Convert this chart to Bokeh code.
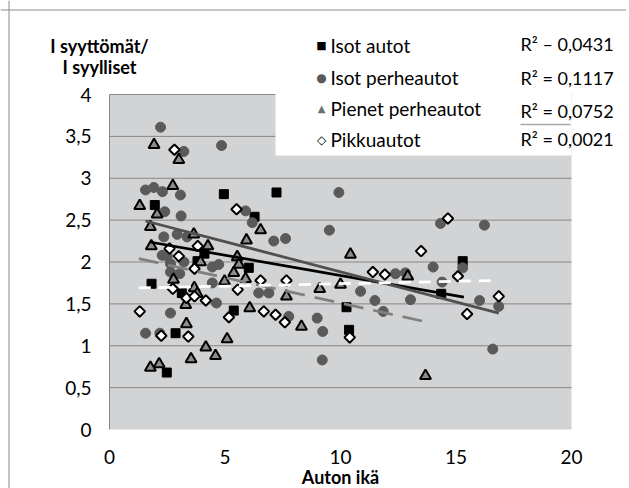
import numpy as np
from bokeh.plotting import figure
from bokeh.models import Label, FixedTicker, Range1d, Span
from bokeh.embed import file_html
from bokeh.resources import INLINE

# ---------------- data ----------------
series_names = ["Isot autot", "Isot perheautot", "Pienet perheautot", "Pikkuautot"]
r2_labels = ["R² – 0,0431", "R² = 0,1117", "R² = 0,0752", "R² = 0,0021"]
x_ticks = [0, 5, 10, 15, 20]
x_tick_labels = ["0", "5", "10", "15", "20"]
y_ticks = [0.0, 0.5, 1.0, 1.5, 2.0, 2.5, 3.0, 3.5, 4.0]
y_tick_labels = ["0", "0,5", "1", "1,5", "2", "2,5", "3", "3,5", "4"]
x_title = "Auton ikä"
y_title = ["I syyttömät/", "I syylliset"]

isot_autot_x = [4.95, 7.23, 1.96, 6.28, 4.11, 3.81, 6.03, 1.82, 3.13, 5.38, 10.26, 10.37, 2.86, 2.48, 14.36, 15.29]
isot_autot_y = [2.81, 2.83, 2.68, 2.54, 2.10, 2.01, 1.93, 1.74, 1.63, 1.42, 1.46, 1.19, 1.15, 0.68, 1.62, 2.01]

isot_perhe_x = [2.21, 3.22, 4.85, 1.56, 1.92, 2.29, 3.07, 2.39, 3.10, 2.35, 2.93, 3.36, 2.28, 2.50, 2.64, 3.22,
                4.45, 4.73, 2.64, 3.04, 4.45, 4.63, 2.64, 1.56, 2.18, 5.89, 6.18, 7.11, 7.62, 9.93, 9.52, 6.46,
                6.90, 7.76, 8.99, 9.23, 9.21, 10.87, 11.49, 11.85, 12.38, 12.81, 13.03, 14.01, 14.40, 14.33,
                16.23, 15.29, 16.02, 16.85, 16.59]
isot_perhe_y = [3.61, 3.32, 3.39, 2.86, 2.89, 2.84, 2.80, 2.60, 2.55, 2.30, 2.33, 2.30, 2.08, 2.07, 1.98, 2.00,
                1.94, 1.97, 1.88, 1.86, 1.75, 1.51, 1.39, 1.15, 1.15, 2.61, 2.47, 2.25, 2.28, 2.83, 2.38, 1.63,
                1.63, 1.35, 1.33, 1.17, 0.83, 1.65, 1.54, 1.41, 1.86, 1.87, 1.55, 1.94, 1.76, 2.46,
                2.44, 1.93, 1.54, 1.47, 0.96]

pienet_x = [1.93, 3.00, 2.74, 1.31, 2.06, 1.77, 3.65, 1.81, 4.26, 3.94, 2.77, 3.67, 3.80, 3.30, 3.33, 4.17,
            3.53, 4.59, 1.77, 2.15, 4.98, 5.09, 6.54, 5.93, 5.53, 5.60, 5.38, 5.89, 6.07, 7.66, 8.31, 9.10,
            10.00, 10.43, 12.91, 13.68]
pienet_y = [3.40, 3.22, 2.91, 2.67, 2.57, 2.42, 2.33, 2.19, 2.19, 2.00, 1.79, 1.69, 1.62, 1.49, 1.26, 0.98,
            0.84, 0.88, 0.74, 0.78, 1.77, 1.08, 2.38, 2.26, 2.06, 1.97, 1.87, 1.80, 1.45, 1.59, 1.23, 1.68,
            1.73, 2.09, 1.83, 0.64]

pikku_x = [2.81, 2.60, 3.82, 3.00, 3.68, 2.74, 3.33, 3.68, 4.17, 1.31, 2.24, 3.41, 5.17, 5.50, 5.55, 6.54,
           7.66, 6.68, 7.19, 7.59, 10.40, 11.40, 11.92, 13.49, 14.65, 15.08, 15.48, 16.85]
pikku_y = [3.34, 2.16, 2.19, 2.07, 1.92, 1.68, 1.57, 1.59, 1.54, 1.41, 1.12, 1.11, 1.34, 2.63, 1.67, 1.78,
           1.78, 1.41, 1.37, 1.28, 1.10, 1.88, 1.85, 2.13, 2.52, 1.83, 1.38, 1.59]

# linear trend lines (start / end)
trend_autot_x = [1.80, 15.34]
trend_autot_y = [2.236, 1.58]
trend_perhe_x = [1.56, 16.85]
trend_perhe_y = [2.49, 1.39]
trend_pienet_x = [1.27, 13.70]
trend_pienet_y = [2.04, 1.285]
trend_pikku_x = [1.27, 16.71]
trend_pikku_y = [1.69, 1.78]

# ---------------- layout (page pixels) ----------------
W, H = 626, 488
CX0, CY0 = 0, 0                      # canvas origin on page
FL, FR, FT, FB = 109, 571, 94, 429   # plot-area edges on page
XMIN, XMAX, YMIN, YMAX = 0, 20, 0, 4


def X(px):
    return XMIN + (px - FL) / (FR - FL) * (XMAX - XMIN)


def Y(py):
    return YMIN + (FB - py) / (FB - FT) * (YMAX - YMIN)


FONT = "Lato"
SYM_FONT = "DejaVu Sans"
GRID = "#868686"

# the frame spans the whole canvas so that no text is clipped;
# axes are fixed at the data origin and bounded to the plot area
p = figure(width=W, height=H, output_backend="svg", toolbar_location=None,
           x_range=Range1d(X(CX0), X(CX0 + W)), y_range=Range1d(Y(CY0 + H), Y(CY0)),
           min_border=0, background_fill_color="white", border_fill_color="white",
           outline_line_color=None)
p.grid.visible = False

p.xaxis.fixed_location = YMIN
p.xaxis.bounds = (XMIN, XMAX)
p.xaxis.ticker = FixedTicker(ticks=x_ticks)
p.xaxis.major_label_overrides = {float(t): s for t, s in zip(x_ticks, x_tick_labels)}
p.xaxis.axis_line_color = None
p.xaxis.major_tick_line_color = None
p.xaxis.minor_tick_line_color = None
p.xaxis.major_label_standoff = 14
p.xaxis.major_label_text_font = FONT
p.xaxis.major_label_text_font_size = "19px"
p.xaxis.major_label_text_color = "black"

p.yaxis.fixed_location = XMIN
p.yaxis.bounds = (YMIN, YMAX)
p.yaxis.ticker = FixedTicker(ticks=y_ticks)
p.yaxis.major_label_overrides = {float(t): s for t, s in zip(y_ticks, y_tick_labels)}
p.yaxis.axis_line_color = GRID
p.yaxis.major_tick_line_color = None
p.yaxis.minor_tick_line_color = None
p.yaxis.major_label_standoff = 12
p.yaxis.major_label_text_font = FONT
p.yaxis.major_label_text_font_size = "19px"
p.yaxis.major_label_text_color = "black"

# plot area background and horizontal grid lines
p.quad(left=XMIN, right=XMAX, bottom=YMIN, top=YMAX, fill_color="#d2d3d5", line_color=None)
grid_y = y_ticks[1:]
p.segment(x0=[XMIN] * len(grid_y), x1=[XMAX] * len(grid_y), y0=grid_y, y1=grid_y,
          line_color=GRID, line_width=1)

# white legend box overlapping the plot area
p.quad(left=X(275), right=XMAX, bottom=Y(155), top=YMAX + 0.02, fill_color="white", line_color=None)
p.segment(x0=[X(520)], x1=[X(570)], y0=[Y(124)], y1=[Y(124)], line_color="#a8a8a8", line_width=1.5)

# series
p.scatter(isot_autot_x, isot_autot_y, marker="square", size=9,
          fill_color="black", line_color="black")
p.scatter(isot_perhe_x, isot_perhe_y, marker="circle", size=10,
          fill_color="#5a5a5a", line_color="#5a5a5a")
p.scatter(pienet_x, pienet_y, marker="triangle", size=11,
          fill_color="#8c8c8c", line_color="black", line_width=2)
p.scatter(pikku_x, pikku_y, marker="square", angle=np.pi / 4, size=7.5,
          fill_color="white", line_color="black", line_width=2)

# trend lines
p.line(trend_autot_x, trend_autot_y, line_color="black", line_width=2.75)
p.line(trend_perhe_x, trend_perhe_y, line_color="#505050", line_width=2.75)
p.line(trend_pienet_x, trend_pienet_y, line_color="#808080", line_width=2.75, line_dash="20 10")
p.line(trend_pikku_x, trend_pikku_y, line_color="white", line_width=2.75, line_dash="12 8")

# legend (manual)
rows_y = [45, 77, 108, 139]
r2_rows_y = [43, 77, 110, 138]
symbols = ["■", "●", "▲", "◇"]
sym_colors = ["black", "#5a5a5a", "#707070", "black"]
sym_sizes = ["11px", "12px", "10px", "12px"]
for name, sy, sym, sc, ss in zip(series_names, rows_y, symbols, sym_colors, sym_sizes):
    p.add_layout(Label(x=X(321), y=Y(sy), text=sym, text_font=SYM_FONT, text_font_size=ss,
                       text_color=sc, text_align="center", text_baseline="middle"))
    p.add_layout(Label(x=X(330), y=Y(sy), text=name, text_font=FONT, text_font_size="19px",
                       text_color="black", text_align="left", text_baseline="middle"))
for r2, ry in zip(r2_labels, r2_rows_y):
    p.add_layout(Label(x=X(520), y=Y(ry), text=r2, text_font=FONT, text_font_size="18px",
                       text_color="black", text_align="left", text_baseline="middle"))

# axis titles
for t, ty in zip(y_title, [45, 66]):
    p.add_layout(Label(x=X(99), y=Y(ty), text=t, text_font=FONT, text_font_size="18px",
                       text_font_style="bold", text_color="black",
                       text_align="center", text_baseline="middle"))
p.add_layout(Label(x=X(340), y=Y(476), text=x_title, text_font=FONT, text_font_size="18px",
                   text_font_style="bold", text_color="black",
                   text_align="center", text_baseline="middle"))

# outer chart border (left and top edges)
p.add_layout(Span(location=X(8.5), dimension="height", line_color="#8c8c8c", line_width=1))
p.add_layout(Span(location=Y(9.5), dimension="width", line_color="#8c8c8c", line_width=1))

html = file_html(p, INLINE)
open("out.html", "w").write(html)
